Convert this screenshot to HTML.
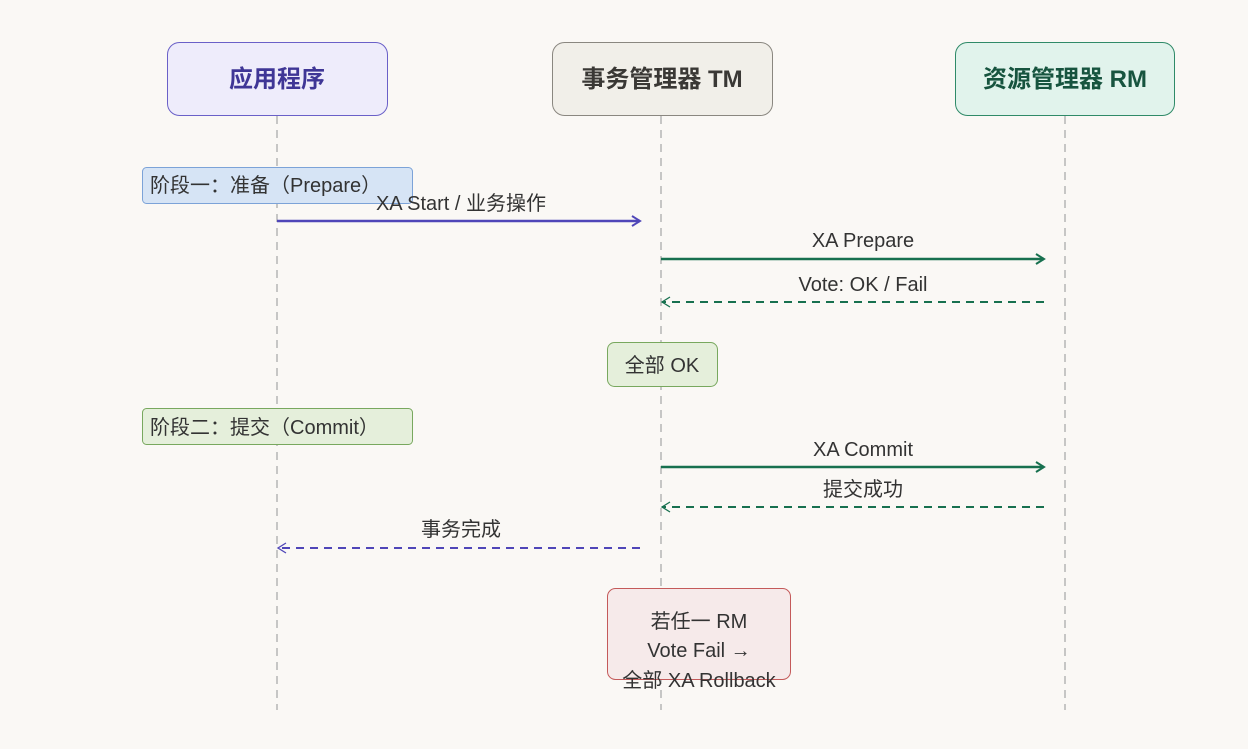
<!DOCTYPE html>
<html><head><meta charset="utf-8"><style>
html,body{margin:0;padding:0;background:#faf8f5;}
svg{display:block;font-family:"Liberation Sans","Noto Sans CJK SC",sans-serif;}
</style></head><body>
<svg width="1248" height="749" viewBox="0 0 1248 749" xmlns="http://www.w3.org/2000/svg">
<defs>
<marker id="ap" markerWidth="12" markerHeight="12" refX="10" refY="6" orient="auto" markerUnits="userSpaceOnUse"><path d="M2,1 L10,6 L2,11" fill="none" stroke="#4f46b8" stroke-width="2"/></marker>
<marker id="ag" markerWidth="12" markerHeight="12" refX="10" refY="6" orient="auto" markerUnits="userSpaceOnUse"><path d="M2,1 L10,6 L2,11" fill="none" stroke="#17704f" stroke-width="2"/></marker>
<marker id="agt" markerWidth="12" markerHeight="12" refX="10" refY="6" orient="auto" markerUnits="userSpaceOnUse"><path d="M2,1 L10,6 L2,11" fill="none" stroke="#17704f" stroke-width="1.3"/></marker>
<marker id="apt" markerWidth="12" markerHeight="12" refX="10" refY="6" orient="auto" markerUnits="userSpaceOnUse"><path d="M2,1 L10,6 L2,11" fill="none" stroke="#4f46b8" stroke-width="1.3"/></marker>
</defs>
<rect width="1248" height="749" fill="#faf8f5"/>
<g stroke="#b5b5b5" stroke-width="1.5" stroke-dasharray="8,6">
<line x1="277" y1="116" x2="277" y2="710"/>
<line x1="661" y1="116" x2="661" y2="710"/>
<line x1="1065" y1="116" x2="1065" y2="710"/>
</g>
<rect x="167.5" y="42.5" width="220" height="73" rx="12" fill="#eeecfb" stroke="#6a60c8"/>
<text x="277" y="87" text-anchor="middle" font-size="24" font-weight="bold" fill="#3f3696">应用程序</text>
<rect x="552.5" y="42.5" width="220" height="73" rx="12" fill="#f1efe9" stroke="#8a8780"/>
<text x="662" y="87" text-anchor="middle" font-size="24" font-weight="bold" fill="#3a3835">事务管理器 TM</text>
<rect x="955.5" y="42.5" width="219" height="73" rx="12" fill="#e1f3ec" stroke="#2f8a68"/>
<text x="1065" y="87" text-anchor="middle" font-size="24" font-weight="bold" fill="#17543f">资源管理器 RM</text>

<rect x="142.5" y="167.5" width="270" height="36" rx="4" fill="#d6e4f5" stroke="#7ca3d8"/>
<text x="150" y="192" font-size="20" fill="#333">阶段一：准备（Prepare）</text>
<text x="461" y="210" text-anchor="middle" font-size="20" fill="#333">XA Start / 业务操作</text>
<line x1="277" y1="221" x2="640" y2="221" stroke="#4f46b8" stroke-width="2.5" marker-end="url(#ap)"/>

<text x="863" y="247" text-anchor="middle" font-size="20" fill="#333">XA Prepare</text>
<line x1="661" y1="259" x2="1044" y2="259" stroke="#17704f" stroke-width="2.5" marker-end="url(#ag)"/>
<text x="863" y="291" text-anchor="middle" font-size="20" fill="#333">Vote: OK / Fail</text>
<line x1="1044" y1="302" x2="662" y2="302" stroke="#17704f" stroke-width="2" stroke-dasharray="8,6" marker-end="url(#agt)"/>

<rect x="607.5" y="342.5" width="110" height="44" rx="7" fill="#e5efdb" stroke="#78a85e"/>
<text x="662" y="372" text-anchor="middle" font-size="20" fill="#333">全部 OK</text>

<rect x="142.5" y="408.5" width="270" height="36" rx="4" fill="#e5efdb" stroke="#78a85e"/>
<text x="150" y="434" font-size="20" fill="#333">阶段二：提交（Commit）</text>

<text x="863" y="456" text-anchor="middle" font-size="20" fill="#333">XA Commit</text>
<line x1="661" y1="467" x2="1044" y2="467" stroke="#17704f" stroke-width="2.5" marker-end="url(#ag)"/>
<text x="863" y="496" text-anchor="middle" font-size="20" fill="#333">提交成功</text>
<line x1="1044" y1="507" x2="662" y2="507" stroke="#17704f" stroke-width="2" stroke-dasharray="8,6" marker-end="url(#agt)"/>

<text x="461" y="536" text-anchor="middle" font-size="20" fill="#333">事务完成</text>
<line x1="640" y1="548" x2="278" y2="548" stroke="#4f46b8" stroke-width="2" stroke-dasharray="8,6" marker-end="url(#apt)"/>

<rect x="607.5" y="588.5" width="183" height="91" rx="8" fill="#f6eaea" stroke="#c45a5a"/>
<text x="699" y="628" text-anchor="middle" font-size="20" fill="#333">若任一 RM</text>
<text x="699" y="657" text-anchor="middle" font-size="20" fill="#333">Vote Fail →</text>
<text x="699" y="687" text-anchor="middle" font-size="20" fill="#333">全部 XA Rollback</text>
</svg>
</body></html>
